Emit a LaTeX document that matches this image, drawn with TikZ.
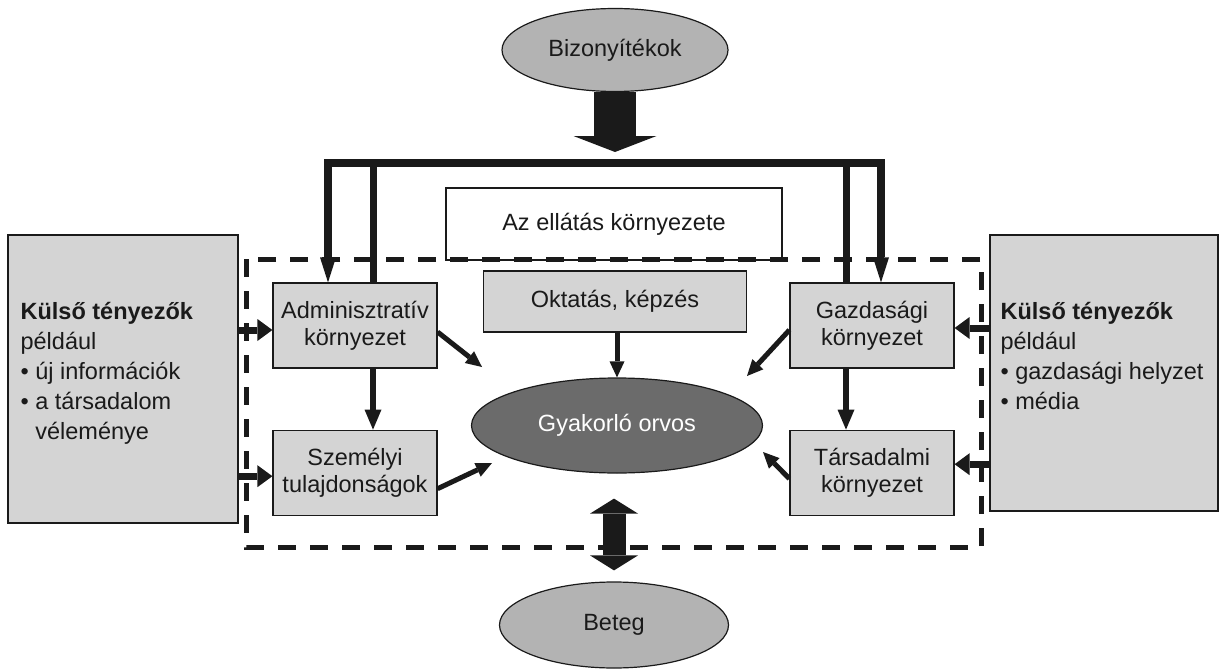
\documentclass[tikz,border=0pt]{standalone}
\usepackage{fontspec}
\setmainfont{Liberation Sans}
\usetikzlibrary{shapes.geometric, arrows.meta, positioning}

\definecolor{boxgrey}{HTML}{D4D4D4}
\definecolor{ovalgrey}{HTML}{B3B3B3}
\definecolor{darkgrey}{HTML}{6B6B6B}
\definecolor{ink}{HTML}{1A1A1A}

\begin{document}
\begin{tikzpicture}[
  x=1pt, y=-1pt,
  node distance=61pt,
  every node/.style={font=\fontsize{23.5}{27}\selectfont, text=ink},
  box/.style={rectangle, draw=ink, line width=1.2pt, fill=boxgrey, minimum width=164pt, minimum height=85pt, align=center, inner sep=0pt},
  oval/.style={ellipse, draw=ink, line width=1.2pt, fill=ovalgrey, inner sep=0pt},
  extbox/.style={rectangle, draw=ink, line width=1.2pt, fill=boxgrey, inner sep=0pt},
  exttext/.style={align=left, inner sep=0pt, anchor=north west, font=\fontsize{23.5}{28.5}\selectfont},
  arr/.style={-{Triangle[width=15pt,length=16pt,line width=0pt]}, line width=5pt, draw=ink},
  downarr/.style={-{Triangle[width=17pt,length=20pt,line width=0pt]}, line width=6pt, draw=ink},
  sidearr/.style={-{Triangle[width=22pt,length=15pt,line width=0pt]}, line width=7pt, draw=ink},
  vline/.style={line width=7pt, draw=ink},
  frame/.style={draw=ink, line width=5pt, dash pattern=on 18pt off 14pt},
  fatarr/.style={-{Triangle[width=83pt,length=16pt,line width=0pt]}, line width=42pt, draw=ink},
  dblarr/.style={{Triangle[width=48pt,length=15pt,line width=0pt]}-{Triangle[width=48pt,length=15pt,line width=0pt]}, line width=23pt, draw=ink}
]
\useasboundingbox (0,0) rectangle (1224,669);

% evidence and the setting of care
\node[oval, minimum width=226pt, minimum height=83pt] (bizon) at (615,50) {Bizonyítékok};
\node[rectangle, draw=ink, line width=1.2pt, fill=white, minimum width=336pt, minimum height=72pt] (ellatas) at (614,224) {Az ellátás környezete};

% inner boxes
\node[box] (admin) at (355,325.5) {Adminisztratív\\környezet};
\node[box, below=of admin] (szemely) {Személyi\\tulajdonságok};
\node[box] (gazd) at (872,325.5) {Gazdasági\\környezet};
\node[box, below=of gazd] (tars) {Társadalmi\\környezet};
\node[box, minimum width=263pt, minimum height=61pt] (oktatas) at (615,301.5) {Oktatás, képzés};
\node[oval, fill=darkgrey, text=white, minimum width=291pt, minimum height=95pt] (orvos) at (617,425.5) {Gyakorló orvos};
\node[oval, minimum width=229pt, minimum height=86pt] (beteg) at (614,625) {Beteg};

% outside factors
\node[extbox, minimum width=230pt, minimum height=288pt] (kulsoL) at (123,379) {};
\node[exttext] (kulsoLtxt) at ([xshift=13pt,yshift=-68pt]kulsoL.north west) {\textbf{Külső tényezők}\\[1.5pt]például\\[1.5pt]• új információk\\[1.5pt]• a társadalom\\[1.5pt]\phantom{• }véleménye};
\node[extbox, minimum width=228pt, minimum height=276pt] (kulsoR) at (1104,373) {};
\node[exttext] (kulsoRtxt) at ([xshift=11pt,yshift=-68pt]kulsoR.north west) {\textbf{Külső tényezők}\\[1.5pt]például\\[1.5pt]• gazdasági helyzet\\[1.5pt]• média};

\draw[frame] (246,259) rectangle (981,547);

% top bar
\coordinate (barL) at (328,163);
\coordinate (barR) at (881,163);
\draw[fatarr, shorten >=11pt] (bizon.south) -- (bizon.south |- barL);
\draw[vline, line width=8pt, {Triangle[width=16pt,length=25pt,line width=0pt]}-{Triangle[width=16pt,length=25pt,line width=0pt]}] (admin.north -| barL) -- (barL) -- (barR) -- (gazd.north -| barR);
\draw[vline] ([xshift=18pt]admin.north) -- ([xshift=18pt]admin.north |- barL);
\draw[vline] ([xshift=-26pt]gazd.north) -- ([xshift=-26pt]gazd.north |- barR);
\draw[downarr] ([xshift=18pt]admin.south) -- ([xshift=18pt]szemely.north);
\draw[downarr] ([xshift=-26pt]gazd.south) -- ([xshift=-26pt]tars.north);

% towards the doctor
\coordinate (tipA) at (482,367);
\coordinate (tipG) at (747,376);
\coordinate (tipS) at (492,463);
\coordinate (tipT) at (763,452);
\draw[arr] ([yshift=-6.5pt]admin.east) -- (tipA);
\draw[arr] ([yshift=-4.5pt]gazd.west) -- (tipG);
\draw[arr] ([yshift=-16pt]szemely.east) -- (tipS);
\draw[arr] ([yshift=-6pt]tars.west) -- (tipT);
\draw[arr] (oktatas.south -| orvos) -- (orvos.north);

% outside factors in
\coordinate (adminIn) at ([yshift=-4.5pt]admin.west);
\coordinate (szemIn) at ([yshift=-3.5pt]szemely.west);
\coordinate (gazdIn) at ([yshift=-2.5pt]gazd.east);
\coordinate (tarsIn) at ([yshift=8.5pt]tars.east);
\draw[sidearr] (kulsoL.east |- adminIn) -- (adminIn);
\draw[sidearr] (kulsoL.east |- szemIn) -- (szemIn);
\draw[sidearr] (kulsoR.west |- gazdIn) -- (gazdIn);
\draw[sidearr] (kulsoR.west |- tarsIn) -- (tarsIn);

% doctor and patient
\draw[dblarr, shorten <=25pt, shorten >=11pt] (orvos.south -| beteg) -- (beteg.north);
\end{tikzpicture}
\end{document}
